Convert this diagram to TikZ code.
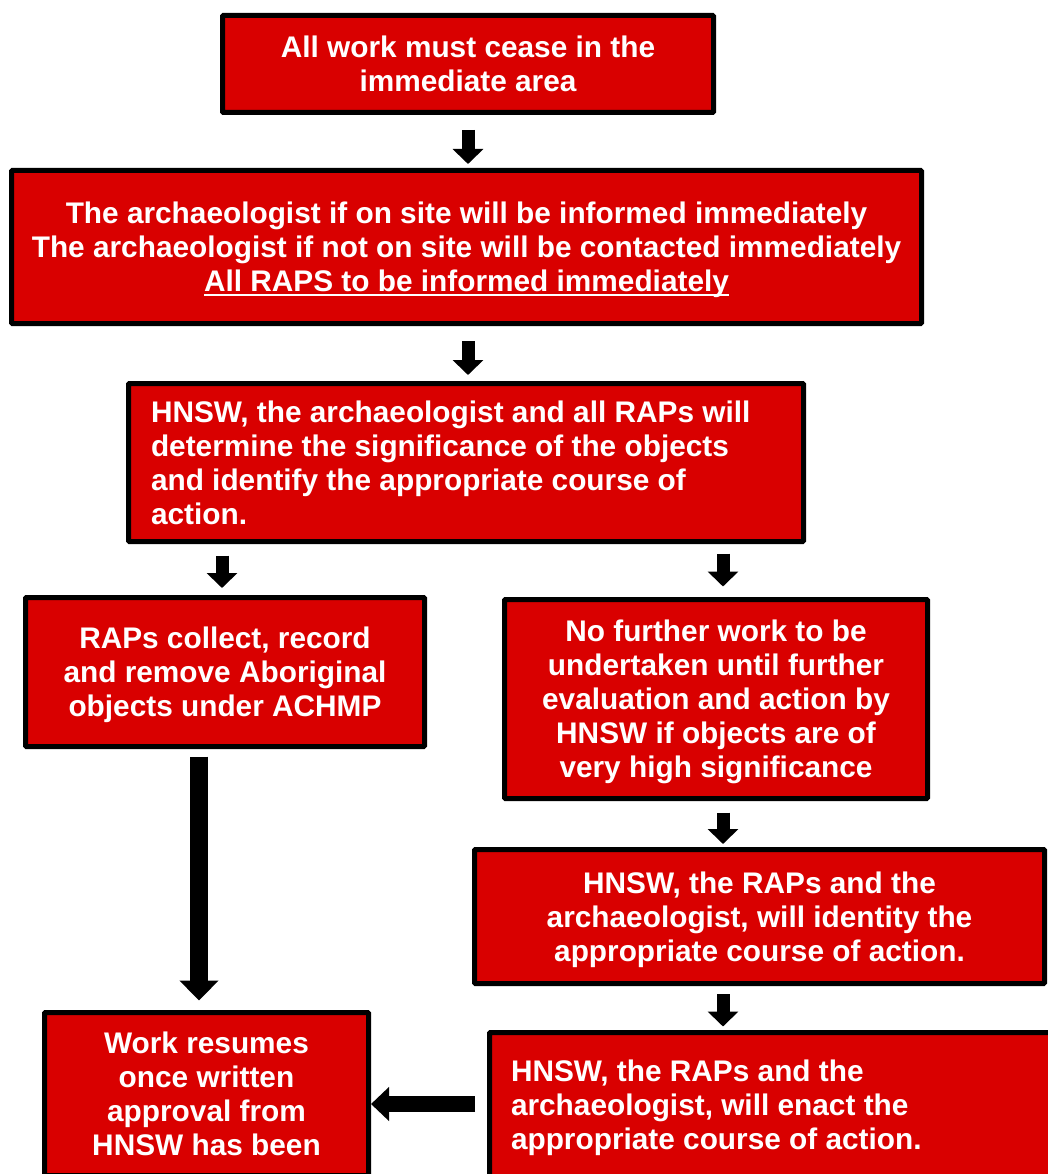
\documentclass[tikz,border=0pt]{standalone}
\usepackage{fontspec}
\setmainfont{Liberation Sans}
\usepackage{xcolor}
\usepackage{tikz}
\usetikzlibrary{arrows.meta,positioning}

\definecolor{boxred}{RGB}{217,0,0}
\newcommand{\lowline}[1]{\leavevmode\setbox0\hbox{#1}\rlap{\rule[-5pt]{\wd0}{2pt}}\box0}

\begin{document}
\begin{tikzpicture}[x=1pt, y=-1pt,
    stage/.style={draw=black, line width=5pt, fill=boxred, text=white, font=\fontsize{29.8}{34}\selectfont\bfseries, align=flush center, inner sep=0pt, rounded corners=1pt,
        execute at begin node={\rule{0pt}{27.5pt}}, execute at end node={\rule[-6.5pt]{0pt}{6.5pt}}},
    flow/.style={line width=13pt, -{Triangle[width=30pt,length=15pt]}},
    bigflow/.style={line width=18pt, -{Triangle[width=38pt,length=20pt]}},
    backflow/.style={line width=16pt, -{Triangle[width=33pt,length=18pt]}}]
    \useasboundingbox (0,0) rectangle (1048,1174);
    \clip (0,0) rectangle (1048,1174);
    \fill[white] (0,0) rectangle (1048,1174);

    % lanes for the arrows
    \coordinate (leftlane) at (222,0);
    \coordinate (rightlane) at (723,0);
    \coordinate (droplane) at (199,0);
    \coordinate (returnlane) at (0,1104);

    \node[stage, minimum width=491pt, minimum height=97pt, text width=480pt] (cease) at (468,64) {All work must cease in the\\immediate area};
    \node[stage, minimum width=910pt, minimum height=153pt, text width=900pt] (inform) at (466.5,247) {The archaeologist if on site will be informed immediately\\The archaeologist if not on site will be contacted immediately\\\lowline{All RAPS to be informed immediately}};
    \node[stage, minimum width=675pt, minimum height=158pt, text width=630pt, align=flush left] (assess) at (466,462.5) {HNSW, the archaeologist and all RAPs will\\determine the significance of the objects\\and identify the appropriate course of\\action.};
    \node[stage, minimum width=399pt, minimum height=149pt, text width=390pt] (collect) at (225,672) {RAPs collect, record\\and remove Aboriginal\\objects under ACHMP};
    \node[stage, minimum width=423pt, minimum height=199pt, text width=410pt] (halt) at (716,699) {No further work to be\\undertaken until further\\evaluation and action by\\HNSW if objects are of\\very high significance};
    \node[stage, minimum width=570pt, minimum height=134pt, text width=560pt] (identify) at (759.5,916.5) {HNSW, the RAPs and the\\archaeologist, will identity the\\appropriate course of action.};
    \node[stage, minimum width=578pt, minimum height=145pt, text width=535pt, align=flush left] (enact) at (778.5,1105) {HNSW, the RAPs and the\\archaeologist, will enact the\\appropriate course of action.};
    \node[stage, minimum width=324pt, minimum height=163pt, text width=315pt] (resume) at (206.5,1094) {Work resumes\\once written\\approval from\\HNSW has been};

    \draw[flow, shorten <=15pt, shorten >=4pt] (cease.south) -- (cease.south |- inform.north);
    \draw[flow, shorten <=15pt, shorten >=6pt] (inform.south -| cease.south) -- (assess.north -| cease.south);
    \draw[flow, shorten <=11.5pt, shorten >=7pt] (assess.south -| leftlane) -- (collect.north -| leftlane);
    \draw[flow, shorten <=9.5pt, shorten >=10.5pt] (assess.south -| rightlane) -- (halt.north -| rightlane);
    \draw[flow, shorten <=11.5pt, shorten >=3pt] (halt.south -| rightlane) -- (identify.north -| rightlane);
    \draw[flow, shorten <=8pt, shorten >=3.5pt] (identify.south -| rightlane) -- (enact.north -| rightlane);
    \draw[bigflow, shorten <=7.5pt, shorten >=9.5pt] (collect.south -| droplane) -- (resume.north -| droplane);
    \draw[backflow, shorten <=12pt, shorten >=0pt] (enact.west |- returnlane) -- (resume.east |- returnlane);
\end{tikzpicture}
\end{document}
